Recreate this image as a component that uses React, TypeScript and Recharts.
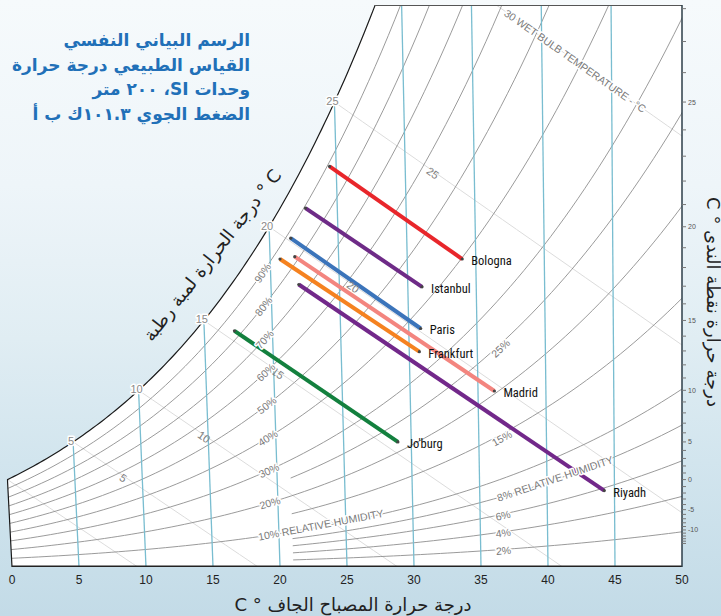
import React from 'react';
import { ComposedChart, Line, Area, Scatter, XAxis, YAxis } from 'recharts';

// city comfort lines (dry bulb on the x scale, humidity ratio g/kg)
const cities = ['Bologna', 'Istanbul', 'Paris', 'Frankfurt', 'Madrid', 'Riyadh', "Jo'burg"];
const startDryBulb = [23.7, 21.9, 20.8, 20.0, 21.1, 21.4, 16.6];
const startHumidity = [17.3, 15.5, 14.2, 13.3, 13.4, 12.2, 10.2];
const endDryBulb = [33.6, 30.6, 30.5, 30.4, 36.0, 44.2, 28.8];
const endHumidity = [13.3, 12.1, 10.3, 9.3, 7.6, 3.3, 5.4];

// grid and tick values
const dryBulbTicks = [0, 5, 10, 15, 20, 25, 30, 35, 40, 45, 50];
const dewPointTicks = [
  -15, -14, -13, -12, -11, -10, -9, -8, -7, -6, -5, -4, -3, -2, -1, 0, 1, 2, 3, 4, 5, 6, 7, 8, 9, 10,
  11, 12, 13, 14, 15, 16, 17, 18, 19, 20, 21, 22, 23, 24, 25, 26, 27, 28,
];
const dewPointLabels = [25, 20, 15, 10, 5, 0, -5, -10];
const isotherms = [5, 10, 15, 20, 25, 30, 35, 40, 45];
const saturationLabels = [5, 10, 15, 20, 25];
const wetBulbs = [0, 5, 10, 15, 20, 25, 30];
const wetBulbLabels = [5, 10, 15, 20, 25];
const rhMain = [10, 20, 30, 40, 50, 60, 70, 80, 90];
const rhRight = [2, 4, 6, 8, 15, 25];

const cityColors = ['#e8262b', '#6e2b87', '#3b74ba', '#f58220', '#f3857f', '#72288a', '#13803e'];

const W = 721;
const H = 616;
const X_MIN = -0.4;
const X_MAX = 50;
const Y_MAX = 24.27;
const MARGIN = { top: 5, right: 0, bottom: 29, left: 6.64 };
const Y_AXIS_W = 39;
const X_AXIS_H = 20;
const SX = (W - MARGIN.right - Y_AXIS_W - MARGIN.left) / (X_MAX - X_MIN);
const SY = (H - MARGIN.top - MARGIN.bottom - X_AXIS_H) / Y_MAX;
const GRAY_FONT = '"Liberation Sans", Arial, sans-serif';
const ARABIC_FONT = '"DejaVu Sans", "Noto Sans", sans-serif';

// psychrometrics at sea level
const P_ATM = 101.325;
const satPressure = (t: number) =>
  t >= 0
    ? 0.61121 * Math.exp((18.678 - t / 234.5) * (t / (257.14 + t)))
    : 0.61115 * Math.exp((23.036 - t / 333.7) * (t / (279.82 + t)));
const ratio = (t: number, rh = 1) => {
  const pv = rh * satPressure(t);
  return (622 * pv) / (P_ATM - pv);
};
const wetBulbRatio = (t: number, twb: number) => {
  const ws = ratio(twb) / 1000;
  return (1000 * ((2501 - 2.326 * twb) * ws - 1.006 * (t - twb))) / (2501 + 1.86 * t - 4.186 * twb);
};
// dry bulb lines lean slightly on this chart
const slant = (t: number) => 0.09 * (1 - t / 52);
const pt = (t: number, w: number) => ({ x: t - slant(t) * w, y: w });
const range = (a: number, b: number, s: number) => {
  const r: number[] = [];
  for (let v = a; v <= b + 1e-9; v += s) r.push(+v.toFixed(4));
  return r;
};
const angleOf = (a: { x: number; y: number }, b: { x: number; y: number }) =>
  (Math.atan2(-(b.y - a.y) * SY, (b.x - a.x) * SX) * 180) / Math.PI;

const saturation = [{ x: 0, y: 0 }, ...range(0, 29, 0.25).map((t) => pt(t, ratio(t)))];
const plotRegion = [...saturation, { x: 50, y: 30 }];
const satTopX = (() => {
  const td = range(27, 29, 0.01).find((t) => ratio(t) >= Y_MAX) || 28;
  return pt(td, ratio(td)).x;
})();

const isoLines = isotherms.map((t) => [pt(t, ratio(t)), { x: t, y: 0 }]);

const wbLines = wetBulbs.map((twb) => {
  const tEnd = twb + ((2501 - 2.326 * twb) * ratio(twb)) / 1000 / 1.006;
  return [...range(twb, tEnd, 1).map((t) => pt(t, wetBulbRatio(t, twb))), { x: tEnd, y: 0 }];
});

const rhLines = [
  ...rhMain.map((r) => range(0, 52, 0.5).map((t) => pt(t, ratio(t, r / 100)))),
  ...rhRight.map((r) => range(21, 52, 0.5).map((t) => pt(t, ratio(t, r / 100)))),
];

const cityLines = cities.map((c, i) => [
  { x: startDryBulb[i], y: startHumidity[i] },
  { x: endDryBulb[i], y: endHumidity[i], name: c },
]);

type Lbl = {
  x: number;
  y: number;
  text: string;
  angle?: number;
  anchor?: string;
  size: number;
  color: string;
  dx?: number;
  dy?: number;
  halo?: boolean;
  font?: string;
};

// grid labels
const gridLabels: Lbl[] = [];
saturationLabels.forEach((t) => {
  gridLabels.push({ ...pt(t, ratio(t)), text: String(t), anchor: 'middle', size: 11, color: '#8a8a8a', dx: -2, dy: -1, halo: true });
});
const wbLabelOffsets = [3.6, 4.7, 5.3, 6, 7];
wetBulbLabels.forEach((twb, i) => {
  const t = twb + wbLabelOffsets[i];
  const a = pt(t, wetBulbRatio(t, twb));
  const b = pt(t + 1, wetBulbRatio(t + 1, twb));
  gridLabels.push({ ...a, text: String(twb), angle: angleOf(a, b), anchor: 'middle', size: 11, color: '#808080', dy: 2 });
});
{
  const t = 42.4;
  const a = pt(t, wetBulbRatio(t, 30));
  const b = pt(t + 1, wetBulbRatio(t + 1, 30));
  gridLabels.push({ ...a, text: '30 WET BULB TEMPERATURE - °C', angle: angleOf(a, b), anchor: 'middle', size: 10.5, color: '#7a7a7a', halo: true });
}
rhMain.forEach((r) => {
  if (r === 10) {
    const s = pt(18.45, ratio(18.45, 0.1));
    const a = pt(22, ratio(22, 0.1));
    const b = pt(26, ratio(26, 0.1));
    gridLabels.push({ ...s, text: '10% RELATIVE HUMIDITY', angle: angleOf(a, b), anchor: 'start', size: 10.5, color: '#7a7a7a', halo: true });
    return;
  }
  const a = pt(19.4, ratio(19.4, r / 100));
  const b = pt(19.9, ratio(19.9, r / 100));
  gridLabels.push({ ...a, text: `${r}%`, angle: angleOf(a, b), anchor: 'middle', size: 10.5, color: '#7a7a7a', halo: true });
});
rhRight.forEach((r) => {
  if (r === 8) {
    const s = pt(36.3, ratio(36.3, 0.08));
    const a = pt(38, ratio(38, 0.08));
    const b = pt(42, ratio(42, 0.08));
    gridLabels.push({ ...s, text: '8% RELATIVE HUMIDITY', angle: angleOf(a, b), anchor: 'start', size: 10.5, color: '#7a7a7a', halo: true });
    return;
  }
  const a = pt(36.7, ratio(36.7, r / 100));
  const b = pt(37.2, ratio(37.2, r / 100));
  gridLabels.push({ ...a, text: `${r}%`, angle: angleOf(a, b), anchor: 'middle', size: 10.5, color: '#7a7a7a', halo: true, dy: r > 10 ? 4 : 1 });
});

// city names at the line ends
const cityLabels: Lbl[] = cities.map((c, i) => ({
  x: endDryBulb[i],
  y: endHumidity[i],
  text: c,
  anchor: 'start',
  size: 12.5,
  color: '#111',
  dx: 9,
  dy: 1.5,
  font: '"Liberation Sans Narrow", "Roboto Condensed", Roboto, sans-serif',
}));

const dewTickValues = dewPointTicks.map((d) => ratio(d)).filter((v) => v <= Y_MAX);
const dewTickText = (v: number) => {
  const d = dewPointTicks.find((p) => Math.abs(ratio(p) - v) < 1e-6);
  return d !== undefined && dewPointLabels.includes(d) ? String(d) : '';
};

const LabelShape = (props: any) => {
  const { cx, cy, payload, index } = props;
  if (cx == null || cy == null || !payload) return <g key={`e${index}`} />;
  const p = payload as Lbl;
  const x = cx + (p.dx || 0);
  const y = cy + (p.dy || 0);
  return (
    <text
      key={`l${index}`}
      x={x}
      y={y}
      textAnchor={p.anchor || 'middle'}
      dominantBaseline="central"
      fontSize={p.size}
      fill={p.color}
      fontFamily={p.font || GRAY_FONT}
      transform={p.angle ? `rotate(${p.angle.toFixed(2)} ${x} ${y})` : undefined}
      stroke={p.halo ? '#fff' : 'none'}
      strokeWidth={p.halo ? 3 : 0}
      strokeLinejoin="round"
      paintOrder="stroke"
    >
      {p.text}
    </text>
  );
};

const titleLines = ['الرسم البياني النفسي', 'القياس الطبيعي درجة حرارة', 'وحدات SI، ٢٠٠ متر', 'الضغط الجوي ١٠١.٣ك ب أ'];
const bottomTitle = 'درجة حرارة المصباح الجاف ° C';
const rightTitle = 'درجة حرارة نقطة الندى ° C';
const leftTitle = 'C ° درجة الحرارة لمبة رطبة';

export default function App() {
  return (
    <div
      style={{
        position: 'absolute',
        left: 0,
        top: 0,
        width: W,
        height: H,
        overflow: 'hidden',
        background: 'linear-gradient(180deg, #f6fafc 0%, #eef5f9 30%, #e0edf3 55%, #d2e5ee 75%, #c3dbe7 100%)',
      }}
    >
      <ComposedChart width={W} height={H} margin={MARGIN}>
        <XAxis
          type="number"
          dataKey="x"
          domain={[X_MIN, X_MAX]}
          ticks={dryBulbTicks}
          interval={0}
          allowDataOverflow
          axisLine={false}
          tickLine={false}
          height={X_AXIS_H}
          tick={{ fontSize: 12, fill: '#222', fontFamily: GRAY_FONT }}
        />
        <YAxis
          type="number"
          orientation="right"
          domain={[0, Y_MAX]}
          ticks={dewTickValues}
          interval={0}
          allowDataOverflow
          width={Y_AXIS_W}
          tickSize={4}
          tickLine={{ stroke: '#777' }}
          axisLine={{ stroke: '#2c3e48', strokeWidth: 1.5 }}
          tick={{ fontSize: 7, fill: '#555', fontFamily: GRAY_FONT }}
          tickFormatter={dewTickText}
        />
        <Area
          data={plotRegion}
          dataKey="y"
          type="linear"
          fill="#ffffff"
          fillOpacity={1}
          stroke="none"
          baseValue={0}
          isAnimationActive={false}
        />
        {wbLines.map((d, i) => (
          <Line key={`wb${i}`} data={d} dataKey="y" type="linear" stroke="#dcdcdc" strokeWidth={1} dot={false} isAnimationActive={false} />
        ))}
        {rhLines.map((d, i) => (
          <Line key={`rh${i}`} data={d} dataKey="y" type="linear" stroke="#8e8e8e" strokeWidth={0.9} dot={false} isAnimationActive={false} />
        ))}
        {isoLines.map((d, i) => (
          <Line key={`iso${i}`} data={d} dataKey="y" type="linear" stroke="#79bdd0" strokeWidth={1.3} dot={false} isAnimationActive={false} />
        ))}
        <Line data={saturation} dataKey="y" type="linear" stroke="#1a1a1a" strokeWidth={1.2} dot={false} isAnimationActive={false} />
        <Line
          data={[{ x: satTopX, y: Y_MAX }, { x: X_MAX, y: Y_MAX }]}
          dataKey="y"
          type="linear"
          stroke="#555"
          strokeWidth={2}
          dot={false}
          isAnimationActive={false}
        />
        <Line
          data={[{ x: 0, y: 0 }, { x: X_MAX, y: 0 }]}
          dataKey="y"
          type="linear"
          stroke="#222"
          strokeWidth={3}
          dot={false}
          isAnimationActive={false}
        />
        {/* grid labels drawn as the dots of an invisible line */}
        <Line
          data={gridLabels}
          dataKey="y"
          type="linear"
          stroke="none"
          dot={LabelShape}
          activeDot={false}
          isAnimationActive={false}
        />
        {cityLines.map((d, i) => (
          <Line
            key={cities[i]}
            data={d}
            dataKey="y"
            type="linear"
            stroke={cityColors[i]}
            strokeWidth={4}
            dot={{ r: 1.6, fill: '#444', stroke: 'none' }}
            isAnimationActive={false}
          />
        ))}
        <Scatter data={cityLabels} dataKey="y" shape={LabelShape} isAnimationActive={false} />
      </ComposedChart>

      <div
        dir="rtl"
        style={{
          position: 'absolute',
          top: 28,
          right: W - 250,
          textAlign: 'right',
          whiteSpace: 'nowrap',
          color: '#2170b8',
          fontFamily: ARABIC_FONT,
          fontWeight: 600,
          fontSize: 17,
          lineHeight: '24.5px',
        }}
      >
        {titleLines.map((l, i) => (
          <div key={i}>{l}</div>
        ))}
      </div>

      <div
        dir="rtl"
        style={{
          position: 'absolute',
          left: 0,
          width: 706,
          top: 593,
          textAlign: 'center',
          whiteSpace: 'nowrap',
          fontFamily: ARABIC_FONT,
          fontSize: 18,
          lineHeight: '24px',
          color: '#222',
        }}
      >
        {bottomTitle}
      </div>

      <div
        dir="rtl"
        style={{
          position: 'absolute',
          left: 713,
          top: 302,
          transform: 'translate(-50%, -50%) rotate(90deg)',
          whiteSpace: 'nowrap',
          fontFamily: ARABIC_FONT,
          fontSize: 18,
          color: '#222',
        }}
      >
        {rightTitle}
      </div>

      <div
        dir="rtl"
        style={{
          position: 'absolute',
          left: 212,
          top: 255,
          transform: 'translate(-50%, -50%) rotate(-52deg)',
          whiteSpace: 'nowrap',
          fontFamily: ARABIC_FONT,
          fontSize: 18,
          color: '#222',
        }}
      >
        {leftTitle}
      </div>
    </div>
  );
}
